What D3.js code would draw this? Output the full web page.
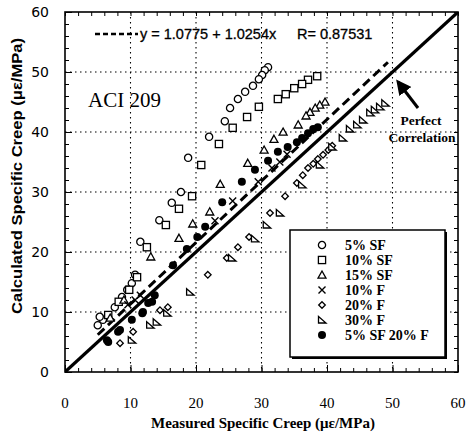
<!DOCTYPE html>
<html><head><meta charset="utf-8">
<script src="https://cdn.jsdelivr.net/npm/d3@7"></script>
<style>body{margin:0;background:#fff}svg{display:block}</style>
</head><body>
<script>
// ---- data ----
const sf5 = [[31.0,50.8],[30.5,50.3],[30.1,49.5],[29.6,48.8],[28.7,47.7],[27.5,46.7],[26.4,45.5],[25.2,44.0],[24.4,41.8],[22.0,39.2],[18.8,35.7],[17.7,30.0],[16.3,28.2],[14.4,25.3],[11.5,21.7],[10.7,16.2],[10.2,14.8],[9.5,13.7],[8.7,12.5],[7.6,10.8],[5.8,8.7],[5.0,7.8],[5.3,9.2]];
const sf10 = [[38.5,49.3],[37.1,48.7],[36.2,48.0],[35.0,47.3],[33.7,46.3],[32.5,45.5],[29.6,44.2],[27.8,42.5],[25.6,40.7],[23.5,38.0],[20.8,34.5],[19.4,29.3],[17.4,27.2],[15.4,24.5],[12.5,20.8],[11.0,15.8],[9.8,13.7],[8.2,11.7],[6.6,9.5]];
const sf15 = [[39.7,45.0],[38.9,44.5],[38.2,44.0],[37.4,43.3],[36.8,42.7],[35.6,41.2],[33.3,40.0],[31.9,38.8],[30.4,37.0],[27.9,34.8],[23.7,31.3],[22.1,26.7],[19.5,24.7],[17.4,22.3],[13.1,19.2],[9.0,12.0],[6.9,9.0]];
const f10 = [[33.9,36.3],[32.8,35.0],[31.6,34.0],[29.5,31.7],[25.6,28.5],[22.9,25.2],[11.5,12.8],[10.7,12.0],[9.6,11.2]];
const f20 = [[40.8,37.7],[40.2,37.0],[39.4,36.2],[38.6,35.5],[37.9,34.7],[37.1,34.0],[36.3,32.8],[35.4,31.5],[33.6,29.3],[31.3,26.5],[28.1,22.5],[26.4,20.8],[24.7,19.0],[21.8,16.2],[14.5,10.3],[15.7,10.8],[10.4,6.7],[8.4,4.8]];
const f30 = [[48.9,44.8],[48.1,44.2],[47.3,43.7],[46.6,43.2],[45.5,42.0],[44.6,41.2],[43.5,40.5],[42.4,39.0],[40.8,37.5],[38.9,34.5],[36.2,31.2],[32.8,26.5],[30.8,24.5],[29.0,22.2],[25.5,19.0],[19.1,13.3],[15.6,9.8],[14.0,8.3],[13.0,7.8],[10.2,5.3]];
const sf5f20 = [[38.6,40.8],[37.9,40.5],[37.1,39.8],[36.2,39.0],[35.4,38.3],[34.0,37.5],[32.5,36.7],[31.0,35.2],[29.0,33.7],[27.0,31.7],[24.0,28.3],[21.4,24.2],[20.2,22.5],[18.6,20.5],[16.5,17.8],[13.7,12.8],[13.3,11.7],[11.8,9.8],[10.2,8.7],[8.4,7.0],[6.6,5.0],[12.7,11.5],[11.9,10.0],[8.1,6.7],[6.4,5.3]];
const seriesNames = ["5% SF","10% SF","15% SF","10% F","20% F","30% F","5% SF 20% F"];
const xTicks = [0,10,20,30,40,50,60];
const yTicks = [0,10,20,30,40,50,60];
const fit = {a:1.0775, b:1.0254, r:0.87531, x0:5, x1:49.3};

// ---- layout ----
const W=466,H=436;
const L=65,R=458,T=12,B=372;
const svg=d3.select("body").append("svg").attr("width",W).attr("height",H);
const x=d3.scaleLinear().domain([0,60]).range([L,R]);
const y=d3.scaleLinear().domain([0,60]).range([B,T]);

// grid
const g=svg.append("g");
[10,20,30,40,50].forEach(v=>{
  g.append("line").attr("x1",x(v)).attr("x2",x(v)).attr("y1",T).attr("y2",B)
   .attr("stroke","#000").attr("stroke-width",1.1).attr("stroke-dasharray","1.5,3.5");
  g.append("line").attr("y1",y(v)).attr("y2",y(v)).attr("x1",L).attr("x2",R)
   .attr("stroke","#000").attr("stroke-width",1.1).attr("stroke-dasharray","1.5,3.5");
});

// axes with inner ticks
const minor=d3.range(0,61,2);
function ticks(axisGen, tr, size){
  svg.append("g").attr("transform",tr).call(axisGen.tickValues(minor).tickSize(size).tickFormat(""))
    .call(s=>s.select(".domain").remove()).selectAll("line").attr("stroke-width",1);
}
ticks(d3.axisTop(x),`translate(0,${B})`,4);
ticks(d3.axisBottom(x),`translate(0,${T})`,4);
ticks(d3.axisRight(y),`translate(${L},0)`,4);
ticks(d3.axisLeft(y),`translate(${R},0)`,4);
svg.append("g").attr("transform",`translate(0,${B})`).call(d3.axisTop(x).tickValues(xTicks).tickSize(7).tickFormat(""))
  .call(s=>s.select(".domain").remove());
svg.append("g").attr("transform",`translate(${L},0)`).call(d3.axisRight(y).tickValues(yTicks).tickSize(7).tickFormat(""))
  .call(s=>s.select(".domain").remove());

svg.append("rect").attr("x",L).attr("y",T).attr("width",R-L).attr("height",B-T)
  .attr("fill","none").attr("stroke","#000").attr("stroke-width",1.6);

// tick labels
svg.append("g").selectAll("text").data(xTicks).join("text")
  .attr("x",d=>x(d)).attr("y",B+36).attr("text-anchor","middle")
  .attr("font-family","Liberation Serif, serif").attr("font-size",15).text(d=>d);
svg.append("g").selectAll("text").data(yTicks).join("text")
  .attr("x",L-16).attr("y",d=>y(d)+5).attr("text-anchor","end")
  .attr("font-family","DejaVu Sans, sans-serif").attr("font-size",14).text(d=>d);

// axis titles
svg.append("text").attr("x",263).attr("y",428).attr("text-anchor","middle")
  .attr("font-family","Liberation Serif, serif").attr("font-weight","bold").attr("font-size",15)
  .text("Measured Specific Creep (με/MPa)");
svg.append("text").attr("transform","translate(22,176) rotate(-90)").attr("text-anchor","middle")
  .attr("font-family","Liberation Sans, sans-serif").attr("font-weight","bold").attr("font-size",14)
  .attr("textLength",276).attr("lengthAdjust","spacingAndGlyphs")
  .text("Calculated Specific Creep (με/MPa)");

// lines
svg.append("clipPath").attr("id","c").append("rect").attr("x",L).attr("y",T).attr("width",R-L).attr("height",B-T);
svg.append("line").attr("clip-path","url(#c)").attr("x1",x(0)).attr("y1",y(0)).attr("x2",x(60)).attr("y2",y(60))
  .attr("stroke","#000").attr("stroke-width",3.2);
svg.append("line").attr("x1",x(fit.x0)).attr("y1",y(fit.a+fit.b*fit.x0)).attr("x2",x(fit.x1)).attr("y2",y(fit.a+fit.b*fit.x1))
  .attr("stroke","#000").attr("stroke-width",3).attr("stroke-dasharray","9,5");

// symbols
const sym={
  circle:(s)=>s.append("circle").attr("r",3.6).attr("fill","#fff").attr("stroke","#000").attr("stroke-width",1.3),
  square:(s)=>s.append("rect").attr("x",-3.6).attr("y",-3.6).attr("width",7.2).attr("height",7.2).attr("fill","#fff").attr("stroke","#000").attr("stroke-width",1.3),
  tri:(s)=>s.append("path").attr("d","M0,-4L4,3.2L-4,3.2Z").attr("fill","#fff").attr("stroke","#000").attr("stroke-width",1.3),
  cross:(s)=>s.append("path").attr("d","M-3.5,-3.5L3.5,3.5M-3.5,3.5L3.5,-3.5").attr("stroke","#000").attr("stroke-width",1.4),
  diamond:(s)=>s.append("path").attr("d","M0,-3.3L3.3,0L0,3.3L-3.3,0Z").attr("fill","#fff").attr("stroke","#000").attr("stroke-width",1.3),
  rtri:(s)=>s.append("path").attr("d","M-3.5,-3.5L4,3L-3.5,3Z").attr("fill","#fff").attr("stroke","#000").attr("stroke-width",1.3),
  filled:(s)=>s.append("circle").attr("r",4).attr("fill","#000")
};
const series=[[sf5,"circle"],[sf10,"square"],[sf15,"tri"],[f10,"cross"],[f20,"diamond"],[f30,"rtri"],[sf5f20,"filled"]];
series.forEach(([data,k])=>{
  svg.append("g").selectAll("g").data(data).join("g")
    .attr("transform",d=>`translate(${x(d[0])},${y(d[1])})`)
    .each(function(){sym[k](d3.select(this));});
});

// equation
svg.append("line").attr("x1",95).attr("x2",138).attr("y1",34).attr("y2",34)
  .attr("stroke","#000").attr("stroke-width",2.4).attr("stroke-dasharray","5,3");
svg.append("text").attr("x",140).attr("y",39).attr("font-family","Liberation Sans, Arial, sans-serif").attr("font-size",14.5)
  .attr("stroke","#000").attr("stroke-width",0.3).text(`y = ${fit.a} + ${fit.b}x`);
svg.append("text").attr("x",297).attr("y",39).attr("font-family","Liberation Sans, Arial, sans-serif").attr("font-size",14.5)
  .attr("stroke","#000").attr("stroke-width",0.3).text(`R= ${fit.r}`);
svg.append("text").attr("x",88).attr("y",107).attr("font-family","Liberation Serif, serif").attr("font-size",21).text("ACI 209");

// annotation
svg.append("defs").append("marker").attr("id","ah").attr("viewBox","0 0 10 10").attr("refX",8).attr("refY",5)
  .attr("markerWidth",5).attr("markerHeight",5).attr("orient","auto")
  .append("path").attr("d","M0,0L10,5L0,10Z").attr("fill","#000");
svg.append("line").attr("x1",418).attr("y1",108).attr("x2",398).attr("y2",82)
  .attr("stroke","#000").attr("stroke-width",3).attr("marker-end","url(#ah)");
svg.append("text").attr("x",421).attr("y",125).attr("text-anchor","middle").attr("font-family","Liberation Serif, serif")
  .attr("font-weight","bold").attr("font-size",13.5).text("Perfect");
svg.append("text").attr("x",422).attr("y",142).attr("text-anchor","middle").attr("font-family","Liberation Serif, serif")
  .attr("font-weight","bold").attr("font-size",13.5).text("Correlation");

// legend
const lg=svg.append("g");
lg.append("rect").attr("x",292).attr("y",232).attr("width",155).attr("height",127).attr("fill","#000");
lg.append("rect").attr("x",290).attr("y",230).attr("width",155).attr("height",127).attr("fill","#fff").attr("stroke","#000").attr("stroke-width",1.5);
const keys=["circle","square","tri","cross","diamond","rtri","filled"];
seriesNames.forEach((n,i)=>{
  const yy=245+i*15;
  const s=lg.append("g").attr("transform",`translate(322,${yy})`);
  sym[keys[i]](s);
  lg.append("text").attr("x",345).attr("y",yy+5).attr("font-family","Liberation Serif, serif")
    .attr("font-weight","bold").attr("font-size",14).text(n);
});
</script>
</body></html>
